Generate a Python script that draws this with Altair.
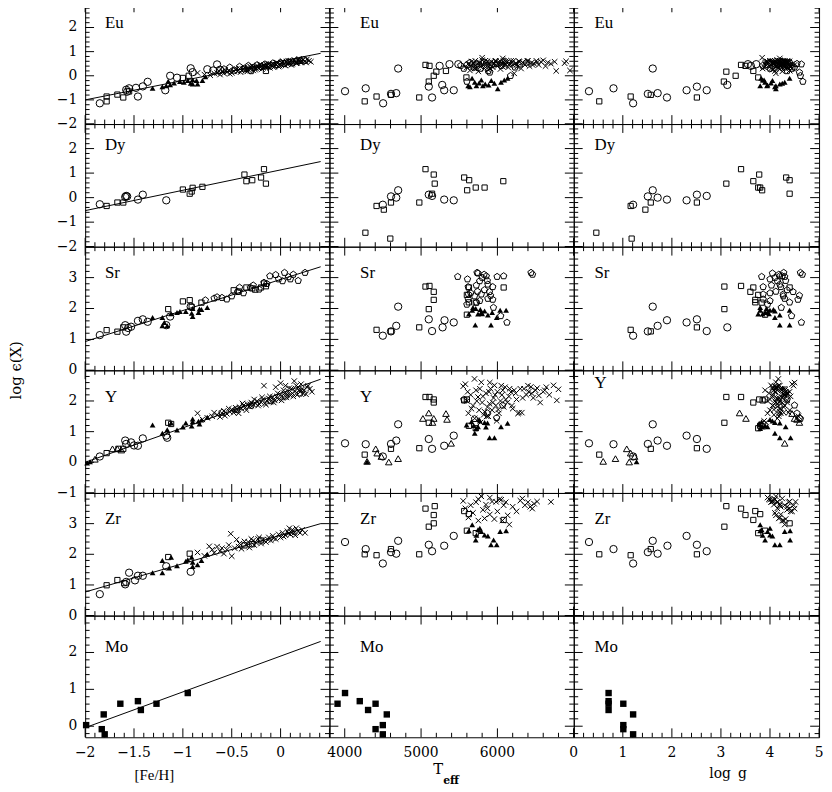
import math
import altair as alt
import pandas as pd

# ---------------- data ----------------
# fitted lines in the [Fe/H] panels: x = [Fe/H], one y pair per element
line_feh = [-2.0, 0.41]
line_eu = [-1.00, 0.93]
line_dy = [-0.53, 1.47]
line_sr = [0.93, 3.35]
line_y = [0.00, 2.71]
line_zr = [0.77, 3.00]
line_mo = [-0.04, 2.30]

# ---- Eu ----  left: ([Fe/H], value) ; mid/right: (Teff, log g, value)
eu_circ_l = [(-1.85, -1.14), (-1.58, -0.58), (-1.57, -0.66), (-1.55, -0.52), (-1.48, -0.50), (-1.46, -0.86),
             (-1.41, -0.44), (-1.36, -0.25), (-1.18, -0.60), (-1.13, 0.00), (-1.06, -0.08), (-0.92, 0.31),
             (-0.90, 0.15), (-0.75, 0.27), (-0.69, 0.22), (-0.65, 0.47), (-0.62, 0.25), (0.24, 0.64)]
eu_sq_l = [(-1.78, -1.06), (-1.78, -0.86), (-1.67, -0.78), (-1.61, -0.90), (-1.55, -0.65), (-1.00, -0.09),
           (-0.94, 0.00), (-0.15, 0.20)]
eu_ftri_l = [(-1.31, -0.52), (-1.21, -0.45), (-1.17, -0.41), (-1.15, -0.23), (-1.13, -0.37), (-1.09, -0.30),
             (-1.03, -0.24), (-0.99, -0.27), (-0.95, -0.20), (-0.92, -0.31), (-0.90, -0.16), (-0.90, -0.34),
             (-0.86, -0.20), (-0.85, -0.34), (-0.80, -0.20), (-0.77, -0.04)]
eu_pent_l = [(-0.58, 0.28), (-0.52, 0.35), (-0.47, 0.22), (-0.42, 0.38), (-0.37, 0.30), (-0.33, 0.42),
             (-0.28, 0.33), (-0.24, 0.45), (-0.20, 0.38), (-0.16, 0.48), (-0.12, 0.40), (-0.08, 0.52),
             (-0.04, 0.45), (0.00, 0.55), (0.04, 0.50), (0.08, 0.58), (0.12, 0.52), (0.16, 0.60),
             (0.20, 0.62), (-0.30, 0.20)]
eu_cross_l = [(-0.85, 0.12), (-0.78, 0.05), (-0.72, 0.02), (-0.68, 0.10), (-0.65, 0.12), (-0.62, 0.05),
              (-0.60, 0.18), (-0.58, 0.10), (-0.55, 0.15), (-0.53, 0.22), (-0.50, 0.12), (-0.48, 0.20),
              (-0.46, 0.25), (-0.44, 0.18), (-0.42, 0.30), (-0.40, 0.22), (-0.38, 0.28), (-0.36, 0.20),
              (-0.35, 0.32), (-0.33, 0.25), (-0.31, 0.38), (-0.30, 0.30), (-0.28, 0.22), (-0.27, 0.35),
              (-0.25, 0.30), (-0.24, 0.42), (-0.22, 0.32), (-0.20, 0.38), (-0.19, 0.28), (-0.17, 0.45),
              (-0.16, 0.35), (-0.14, 0.40), (-0.12, 0.48), (-0.11, 0.33), (-0.09, 0.42), (-0.08, 0.50),
              (-0.06, 0.40), (-0.05, 0.46), (-0.03, 0.52), (-0.02, 0.38), (0.00, 0.47), (0.01, 0.55),
              (0.03, 0.45), (0.04, 0.52), (0.06, 0.58), (0.07, 0.48), (0.09, 0.55), (0.10, 0.62),
              (0.12, 0.50), (0.13, 0.57), (0.15, 0.60), (0.17, 0.53), (0.18, 0.65), (0.20, 0.58),
              (0.22, 0.62), (0.25, 0.60), (0.27, 0.68), (-0.45, 0.28), (-0.41, 0.15), (-0.37, 0.35),
              (-0.34, 0.18), (-0.29, 0.40), (-0.26, 0.25), (-0.23, 0.35), (-0.21, 0.45), (-0.18, 0.33),
              (-0.15, 0.50), (-0.13, 0.36), (-0.10, 0.45), (-0.07, 0.35), (-0.04, 0.55), (-0.01, 0.42),
              (0.02, 0.60), (0.05, 0.42), (0.08, 0.62), (0.11, 0.45), (0.14, 0.66), (0.16, 0.52),
              (0.19, 0.70), (0.21, 0.55), (0.23, 0.68), (0.26, 0.55), (0.29, 0.62), (0.31, 0.58),
              (-0.57, 0.25), (-0.52, 0.08), (-0.63, 0.20)]
eu_circ_m = [(4004, 0.31, -0.64), (4275, 0.81, -0.52), (4503, 1.21, -1.14), (4606, 1.51, -0.75),
             (4675, 1.71, -0.72), (4700, 1.61, 0.30), (5101, 2.51, -0.45), (5144, 1.90, -0.90),
             (5303, 2.71, -0.60), (5428, 2.30, -0.60), (5277, 3.13, -0.38), (5243, 3.61, 0.41),
             (5372, 3.55, 0.48), (5488, 3.72, 0.48)]
eu_sq_m = [(4262, 0.52, -1.06), (4417, 1.16, -0.86), (4606, 1.57, -0.79), (4976, 2.51, -0.90),
           (5058, 3.41, 0.45), (5110, 3.50, 0.41), (5166, 3.30, 0.00), (5200, 3.11, 0.17),
           (5101, 3.06, -0.24), (5594, 3.76, -0.07), (5326, 3.66, 0.20)]
eu_ftri_m = [(5617, 3.80, -0.41), (5640, 4.10, -0.45), (5668, 3.82, -0.10), (5703, 3.90, -0.27),
             (5725, 3.94, -0.41), (5760, 4.02, -0.30), (5789, 3.85, -0.18), (5810, 4.12, -0.41),
             (5840, 4.20, -0.34), (5885, 3.95, -0.38), (5920, 4.05, -0.20), (5960, 4.25, -0.31),
             (6004, 4.12, -0.54), (6047, 4.30, -0.27), (6090, 3.88, -0.18), (6133, 4.40, -0.10)]
eu_pent_m = [(5520, 3.85, 0.42), (5560, 4.00, 0.30), (5600, 3.95, 0.45), (5640, 4.20, 0.55),
             (5690, 4.30, 0.35), (5730, 4.10, 0.48), (5780, 4.45, 0.30), (5830, 4.00, 0.55),
             (5880, 4.35, 0.20), (5930, 4.15, 0.45), (5990, 4.55, 0.50), (6050, 4.35, 0.42),
             (6100, 4.25, 0.60), (6172, 4.62, 0.00), (6230, 4.50, 0.35), (6300, 4.64, 0.48),
             (6380, 4.40, 0.55), (5600, 4.67, -0.24), (5900, 4.60, 0.14)]
eu_cross_m = [(5600, 4.30, 0.35), (5620, 4.05, 0.50), (5640, 4.40, 0.22), (5660, 3.95, 0.58),
              (5680, 4.20, 0.42), (5700, 4.45, 0.30), (5710, 4.10, 0.62), (5730, 3.90, 0.48),
              (5750, 4.25, 0.18), (5760, 4.35, 0.55), (5780, 4.00, 0.38), (5800, 4.15, 0.65),
              (5810, 4.50, 0.45), (5830, 3.85, 0.30), (5850, 4.20, 0.52), (5870, 4.30, 0.60),
              (5880, 4.05, 0.25), (5900, 4.40, 0.45), (5920, 3.95, 0.58), (5940, 4.15, 0.35),
              (5960, 4.25, 0.50), (5980, 4.10, 0.62), (6000, 4.35, 0.40), (6020, 3.90, 0.55),
              (6040, 4.20, 0.28), (6060, 4.45, 0.48), (6080, 4.00, 0.60), (6100, 4.30, 0.42),
              (6120, 4.15, 0.55), (6140, 3.88, 0.35), (6160, 4.25, 0.50), (6180, 4.05, 0.62),
              (6200, 4.40, 0.45), (6220, 4.12, 0.10), (6240, 3.95, 0.52), (6260, 4.30, 0.38),
              (6290, 4.18, 0.58), (6310, 4.02, 0.30), (6330, 4.35, 0.55), (6360, 4.22, 0.45),
              (6390, 3.92, 0.60), (6420, 4.28, 0.40), (6450, 4.10, 0.55), (6480, 4.38, 0.50),
              (6510, 4.00, 0.62), (6540, 4.20, 0.45), (6570, 4.32, 0.58), (6600, 4.15, 0.64),
              (6630, 4.42, 0.40), (6660, 4.05, 0.55), (6700, 4.25, 0.50), (6750, 4.30, 0.58),
              (6770, 4.10, 0.20), (6880, 4.35, 0.52), (6900, 4.20, 0.60), (6950, 4.40, 0.22),
              (5800, 3.84, 0.75), (6070, 4.20, 0.72), (5650, 4.22, 0.40), (5690, 4.28, 0.52),
              (5720, 4.18, 0.30), (5770, 4.12, 0.55), (5790, 4.38, 0.42), (5840, 4.26, 0.62),
              (5860, 4.14, 0.40), (5890, 4.22, 0.55), (5910, 4.32, 0.30), (5950, 4.08, 0.52),
              (5970, 4.36, 0.60), (6010, 4.18, 0.48), (6030, 4.28, 0.62), (6070, 4.12, 0.38),
              (6090, 4.25, 0.52), (6110, 4.40, 0.60), (6150, 4.10, 0.45), (6190, 4.30, 0.55),
              (6210, 4.20, 0.62), (6250, 4.15, 0.45), (6280, 4.35, 0.60), (6340, 4.08, 0.52),
              (6400, 4.20, 0.62), (6460, 4.30, 0.45), (6520, 4.12, 0.55)]

# ---- Dy ----
dy_circ_l = [(-1.85, -0.27), (-1.59, 0.03), (-1.58, 0.07), (-1.57, 0.05), (-1.46, -0.08), (-1.41, 0.12),
             (-1.17, -0.11)]
dy_sq_l = [(-1.78, -0.34), (-1.67, -0.20), (-1.61, -0.20), (-1.00, 0.33), (-0.93, 0.16), (-0.91, 0.25),
           (-0.90, 0.40), (-0.80, 0.44), (-0.37, 0.94), (-0.35, 0.67), (-0.29, 0.71), (-0.20, 0.82),
           (-0.17, 1.16), (-0.15, 0.57)]
dy_circ_m = [(4499, 1.21, -0.29), (4606, 1.51, 0.05), (4675, 1.71, 0.00), (4700, 1.61, 0.30),
             (5101, 2.51, 0.12), (5144, 2.71, 0.07), (5303, 1.90, -0.08), (5428, 2.30, -0.11)]
dy_sq_m = [(4271, 0.46, -1.43), (4597, 1.18, -1.67), (4417, 1.16, -0.34), (4512, 1.46, -0.49),
           (4606, 1.57, -0.20), (4977, 2.51, -0.20), (5179, 3.11, 0.57), (5058, 3.41, 1.16),
           (5166, 3.78, 0.94), (5565, 4.33, 0.82), (5630, 4.40, 0.71), (5604, 3.84, 0.30),
           (5716, 3.76, 0.41), (5832, 3.80, 0.41), (6077, 3.66, 0.67), (5144, 4.40, 0.16)]

# ---- Sr ----
sr_circ_l = [(-1.85, 1.14), (-1.59, 1.46), (-1.58, 1.25), (-1.56, 1.37), (-1.53, 1.41), (-1.46, 1.60),
             (-1.41, 1.65), (-1.36, 1.57), (-1.17, 1.46), (-1.13, 1.74), (-0.92, 2.06)]
sr_sq_l = [(-1.78, 1.30), (-1.67, 1.25), (-1.61, 1.39), (-1.15, 1.98), (-1.00, 2.23), (-0.93, 2.27),
           (-0.91, 2.05), (-0.81, 2.19), (-0.48, 2.59), (-0.43, 2.55), (-0.35, 2.68), (-0.29, 2.65),
           (-0.26, 2.61), (-0.20, 2.68), (-0.17, 2.81), (-0.15, 2.72)]
sr_ftri_l = [(-1.31, 1.71), (-1.21, 1.44), (-1.21, 1.71), (-1.19, 1.55), (-1.16, 1.44), (-1.12, 1.83),
             (-1.06, 1.87), (-1.03, 1.90), (-0.97, 1.90), (-0.90, 2.00), (-0.91, 1.85), (-0.90, 1.74),
             (-0.84, 1.87), (-0.83, 1.98), (-0.81, 1.97), (-0.75, 2.03)]
sr_pent_l = [(-0.77, 2.27), (-0.68, 2.33), (-0.65, 2.37), (-0.60, 2.35), (-0.55, 2.30), (-0.50, 2.40),
             (-0.44, 2.54), (-0.42, 2.68), (-0.38, 2.50), (-0.31, 2.68), (-0.28, 2.75), (-0.22, 2.62),
             (-0.17, 2.84), (-0.14, 2.80), (-0.11, 3.05), (-0.05, 3.09), (-0.02, 2.95), (0.02, 2.89),
             (0.04, 3.16), (0.08, 3.02), (0.10, 2.95), (0.13, 3.10), (0.18, 2.90), (0.25, 3.16)]
sr_circ_m = [(4499, 1.21, 1.12), (4606, 1.51, 1.26), (4675, 1.71, 1.44), (4700, 1.61, 2.06),
             (5101, 2.51, 1.65), (5144, 2.71, 1.27), (5282, 3.13, 1.39), (5307, 1.90, 1.62),
             (5428, 2.30, 1.55)]
sr_sq_m = [(4417, 1.16, 1.31), (4606, 1.57, 1.26), (4976, 2.51, 1.39), (5058, 3.07, 2.71),
           (5110, 3.41, 2.73), (5166, 3.60, 2.54), (5166, 3.70, 2.28), (5101, 3.07, 1.98),
           (5627, 3.66, 2.68), (5600, 3.76, 2.44), (5716, 3.83, 2.19), (5600, 3.90, 1.80),
           (6082, 4.40, 2.68), (5626, 3.70, 2.20)]
sr_ftri_m = [(5626, 3.76, 1.82), (5680, 3.80, 2.03), (5716, 3.93, 2.00), (5746, 3.85, 1.82),
             (5776, 4.07, 1.97), (5789, 3.90, 1.87), (5832, 4.10, 1.92), (5875, 4.20, 1.79),
             (5931, 3.95, 1.87), (5991, 4.10, 1.71), (6036, 4.00, 1.94), (6114, 4.40, 1.94),
             (5710, 4.20, 1.47), (5916, 4.40, 1.47), (5670, 3.80, 1.94), (5800, 3.98, 1.83)]
sr_pent_m = [(5480, 3.83, 3.03), (5608, 4.00, 2.95), (5746, 4.05, 3.14), (5854, 4.25, 3.05),
             (5996, 4.30, 3.03), (6082, 4.20, 3.05), (6440, 4.62, 3.16), (6460, 4.66, 3.10),
             (5617, 3.86, 2.70), (5724, 4.03, 2.75), (5768, 4.15, 2.89), (5800, 4.10, 3.00),
             (5875, 4.20, 2.78), (5896, 4.47, 2.54), (5939, 4.22, 2.70), (5620, 3.86, 2.46),
             (5650, 4.00, 2.50), (5700, 4.27, 2.40), (5740, 4.12, 2.55), (5789, 4.27, 2.46),
             (5830, 4.35, 2.60), (5875, 4.30, 2.32), (5939, 4.57, 2.29), (5768, 4.00, 2.25),
             (5617, 3.86, 2.30), (6043, 4.44, 1.76), (5948, 4.23, 2.03), (5600, 3.95, 2.13),
             (5728, 4.40, 2.20), (5733, 4.28, 3.16), (5826, 4.18, 3.10), (5868, 4.32, 2.90),
             (5910, 4.60, 2.42), (6125, 4.64, 1.55)]

# ---- Y ----
y_circ_l = [(-1.85, 0.19), (-1.59, 0.71), (-1.58, 0.60), (-1.53, 0.65), (-1.50, 0.55), (-1.46, 0.54),
            (-1.41, 0.78), (-1.17, 0.87), (-1.16, 0.80)]
y_sq_l = [(-1.78, 0.30), (-1.66, 0.44), (-1.61, 0.44), (-1.15, 1.29), (-1.12, 1.25)]
y_otri_l = [(-1.90, 0.10), (-1.72, 0.44), (-1.67, 0.44), (-1.63, 0.40)]
y_ftri_l = [(-1.98, -0.02), (-1.95, 0.02), (-1.31, 1.22), (-1.21, 0.95), (-1.16, 1.06), (-1.12, 1.28),
            (-1.06, 1.05), (-0.97, 1.28), (-0.90, 1.32), (-0.91, 1.18), (-0.90, 1.41), (-0.84, 1.34),
            (-0.83, 1.25), (-0.81, 1.38), (-0.75, 1.47), (-1.00, 1.15)]
y_pent_l = [(-0.60, 1.62), (-0.45, 1.72), (-0.30, 1.85), (-0.10, 2.00), (0.05, 2.15), (0.20, 2.25)]
y_cross_l = [(-0.85, 1.60), (-0.80, 1.40), (-0.75, 1.45), (-0.70, 1.50), (-0.68, 1.62), (-0.65, 1.55),
             (-0.62, 1.48), (-0.60, 1.60), (-0.58, 1.68), (-0.55, 1.58), (-0.52, 1.65), (-0.50, 1.72),
             (-0.48, 1.62), (-0.46, 1.78), (-0.44, 1.70), (-0.42, 1.80), (-0.40, 1.75), (-0.38, 1.85),
             (-0.36, 1.78), (-0.34, 1.90), (-0.32, 1.82), (-0.30, 1.95), (-0.28, 1.88), (-0.26, 1.92),
             (-0.24, 2.00), (-0.22, 1.90), (-0.20, 1.96), (-0.18, 2.05), (-0.16, 1.92), (-0.14, 2.00),
             (-0.12, 2.08), (-0.10, 1.98), (-0.08, 2.12), (-0.06, 2.02), (-0.04, 2.15), (-0.02, 2.05),
             (0.00, 2.20), (0.02, 2.10), (0.04, 2.25), (0.06, 2.12), (0.08, 2.30), (0.10, 2.18),
             (0.11, 2.40), (0.12, 2.25), (0.14, 2.65), (0.15, 2.32), (0.17, 2.20), (0.18, 2.45),
             (0.20, 2.30), (0.22, 2.38), (0.24, 2.35), (0.26, 2.22), (0.28, 2.50), (0.30, 2.40),
             (-0.05, 2.45), (0.05, 2.50), (-0.17, 2.50), (0.00, 2.58), (-0.57, 1.52), (-0.53, 1.75),
             (-0.47, 1.68), (-0.43, 1.60), (-0.39, 1.92), (-0.35, 1.70), (-0.31, 1.88), (-0.27, 2.05),
             (-0.23, 1.85), (-0.19, 2.12), (-0.15, 1.88), (-0.11, 2.15), (-0.07, 1.95), (-0.03, 2.25),
             (0.01, 2.02), (0.03, 2.35), (0.07, 2.20), (0.09, 2.42), (0.13, 2.15), (0.16, 2.50),
             (0.19, 2.35), (0.21, 2.55), (0.23, 2.25), (0.27, 2.45), (0.32, 2.30)]
y_circ_m = [(4004, 0.31, 0.62), (4275, 0.81, 0.59), (4499, 1.21, 0.19), (4606, 1.51, 0.60),
            (4675, 1.71, 0.71), (4700, 1.61, 1.24), (5101, 2.51, 0.76), (5144, 2.71, 0.44),
            (5303, 1.90, 0.54), (5428, 2.30, 0.87)]
y_sq_m = [(4262, 0.52, 0.25), (4606, 1.57, 0.44), (4977, 2.51, 0.46), (5058, 3.11, 2.13),
          (5110, 3.41, 2.13), (5166, 3.78, 2.05), (5166, 3.66, 1.95), (5101, 3.07, 1.29),
          (5565, 3.85, 2.02), (5600, 3.90, 2.05), (5626, 3.80, 1.19), (5716, 3.76, 1.11)]
y_otri_m = [(4293, 0.60, 0.03), (4406, 1.08, 0.44), (4425, 1.16, 0.30), (4480, 1.24, 0.19),
            (4577, 1.13, 0.01), (4700, 0.85, 0.12), (5101, 3.38, 1.61), (5024, 3.51, 1.43),
            (5166, 4.50, 1.43), (5150, 4.60, 1.30), (5326, 4.45, 1.59), (5340, 4.55, 1.40),
            (5394, 4.30, 0.62)]
y_ftri_m = [(4293, 1.28, 0.02), (5596, 3.80, 1.22), (5660, 3.83, 1.32), (5690, 3.90, 1.20),
            (5703, 4.10, 0.95), (5746, 3.95, 1.16), (5770, 4.05, 1.35), (5832, 4.10, 1.30),
            (5850, 3.85, 1.15), (5870, 4.20, 1.28), (5897, 4.20, 0.80), (5961, 4.42, 0.80),
            (6047, 4.32, 1.16), (6133, 3.78, 1.27), (5720, 3.80, 1.10), (5760, 4.00, 1.40)]
y_pent_m = [(5560, 4.35, 2.05), (5870, 4.55, 1.60), (6069, 4.50, 1.86), (5990, 4.60, 1.45),
            (5700, 4.62, 1.42)]
y_cross_m = [(5552, 4.10, 2.48), (5600, 4.20, 2.00), (5620, 3.95, 1.60), (5650, 4.30, 2.20),
             (5680, 4.05, 1.85), (5703, 4.15, 1.43), (5720, 3.90, 2.35), (5746, 4.25, 2.13),
             (5760, 4.00, 1.70), (5789, 4.12, 2.61), (5800, 4.35, 1.95), (5820, 4.08, 1.55),
             (5832, 4.20, 1.65), (5850, 3.98, 2.25), (5870, 4.28, 1.80), (5897, 4.15, 1.91),
             (5910, 4.05, 2.40), (5930, 4.40, 1.70), (5950, 4.18, 2.10), (5961, 4.02, 2.51),
             (5980, 4.30, 1.85), (6000, 4.10, 2.30), (6020, 4.22, 1.60), (6040, 3.95, 2.00),
             (6060, 4.35, 2.20), (6082, 4.15, 1.81), (6100, 4.05, 2.45), (6130, 4.25, 1.95),
             (6150, 4.42, 2.15), (6177, 4.10, 2.29), (6200, 4.20, 1.75), (6220, 4.30, 2.35),
             (6250, 4.00, 2.05), (6270, 4.18, 1.59), (6284, 4.28, 1.62), (6300, 4.12, 2.40),
             (6320, 4.38, 1.62), (6348, 4.22, 2.40), (6380, 4.05, 2.20), (6410, 4.32, 2.30),
             (6439, 4.15, 2.46), (6470, 4.25, 2.10), (6500, 4.08, 2.35), (6542, 4.30, 2.18),
             (6560, 4.20, 1.95), (6600, 4.40, 2.30), (6640, 4.12, 2.45), (6680, 4.28, 2.20),
             (6735, 4.18, 2.51), (6778, 4.35, 2.02), (6800, 4.22, 2.38), (5580, 4.45, 2.55),
             (5900, 4.50, 2.60), (6050, 4.48, 2.50), (5990, 3.88, 1.35), (5780, 3.92, 1.30),
             (5880, 4.58, 1.50), (5700, 4.17, 2.72), (5610, 4.12, 2.30), (5660, 4.22, 1.75),
             (5730, 4.10, 2.00), (5770, 4.30, 2.40), (5810, 4.05, 2.15), (5860, 4.18, 1.50),
             (5890, 4.32, 2.30), (5940, 4.12, 1.95), (5970, 4.25, 2.20), (6010, 4.08, 1.72),
             (6070, 4.30, 2.35), (6110, 4.16, 2.05), (6160, 4.26, 2.40), (6190, 4.06, 1.85),
             (6240, 4.34, 2.25), (6330, 4.14, 2.10), (6400, 4.20, 2.50), (6450, 4.36, 2.25),
             (6520, 4.14, 2.42), (6620, 4.24, 2.35)]

# ---- Zr ----
zr_circ_l = [(-1.85, 0.70), (-1.59, 1.02), (-1.58, 1.10), (-1.55, 1.40), (-1.49, 1.15), (-1.46, 1.30),
             (-1.41, 1.30), (-1.17, 1.61), (-0.92, 1.43)]
zr_sq_l = [(-1.78, 0.99), (-1.67, 1.16), (-1.60, 1.06), (-1.15, 1.91), (-0.93, 2.02), (-0.37, 2.29),
           (-0.29, 2.33), (-0.20, 2.45)]
zr_ftri_l = [(-1.31, 1.40), (-1.21, 1.80), (-1.21, 1.40), (-1.14, 1.55), (-1.12, 1.90), (-1.06, 1.63),
             (-0.97, 1.77), (-0.95, 1.82), (-0.91, 1.90), (-0.90, 1.74), (-0.90, 1.60), (-0.85, 1.66),
             (-0.81, 1.80), (-0.75, 2.00)]
zr_cross_l = [(-0.85, 2.06), (-0.78, 1.95), (-0.73, 2.26), (-0.68, 2.05), (-0.62, 2.10), (-0.58, 2.02),
              (-0.55, 2.15), (-0.51, 2.67), (-0.50, 1.94), (-0.47, 2.20), (-0.43, 2.25), (-0.40, 2.18),
              (-0.37, 2.42), (-0.35, 2.30), (-0.32, 2.22), (-0.28, 2.45), (-0.25, 2.38), (-0.23, 2.50),
              (-0.20, 2.35), (-0.18, 2.48), (-0.15, 2.40), (-0.12, 2.55), (-0.10, 2.45), (-0.08, 2.60),
              (-0.05, 2.50), (-0.02, 2.65), (0.00, 2.55), (0.02, 2.70), (0.05, 2.62), (0.07, 2.75),
              (0.10, 2.65), (0.12, 2.80), (0.14, 2.70), (0.16, 2.85), (0.18, 2.75), (0.22, 2.80),
              (0.25, 2.70), (-0.65, 2.25), (-0.45, 2.48), (-0.30, 2.50), (-0.70, 2.15), (-0.60, 2.20),
              (-0.53, 2.30), (-0.42, 2.35), (-0.33, 2.40), (-0.27, 2.30), (-0.22, 2.55), (-0.13, 2.48),
              (-0.07, 2.52), (0.03, 2.58), (0.08, 2.68), (0.11, 2.72), (0.15, 2.62), (0.20, 2.70),
              (0.09, 2.85)]
zr_circ_m = [(4004, 0.31, 2.40), (4275, 0.81, 2.17), (4499, 1.21, 1.70), (4606, 1.51, 2.07),
             (4675, 1.71, 2.02), (4700, 1.61, 2.44), (5101, 2.51, 2.31), (5144, 2.71, 2.10),
             (5303, 1.91, 2.28), (5428, 2.30, 2.60)]
zr_sq_m = [(4262, 0.52, 2.00), (4417, 1.16, 1.97), (4606, 1.57, 2.17), (4976, 2.51, 2.00),
           (5058, 3.41, 3.49), (5179, 3.11, 3.57), (5166, 3.50, 3.28), (5166, 4.40, 3.01),
           (5101, 3.07, 2.90), (5565, 3.70, 3.41), (5626, 3.80, 3.31), (5600, 3.90, 2.77),
           (5716, 3.76, 2.69), (6082, 3.66, 3.12)]
zr_ftri_m = [(5626, 3.80, 2.77), (5670, 3.80, 2.96), (5716, 3.90, 2.47), (5746, 3.83, 2.80),
             (5770, 4.00, 2.85), (5789, 3.95, 2.74), (5832, 4.00, 2.63), (5875, 4.05, 2.60),
             (5916, 4.10, 2.31), (5991, 4.20, 2.31), (6036, 4.30, 2.74), (6114, 4.41, 2.77),
             (5725, 3.85, 2.62), (5950, 4.41, 2.47)]
zr_cross_m = [(5552, 4.05, 3.74), (5580, 4.15, 3.50), (5620, 4.20, 3.20), (5650, 4.30, 3.60),
              (5680, 4.10, 3.35), (5720, 4.02, 3.70), (5750, 4.25, 3.10), (5789, 4.12, 3.89),
              (5810, 4.35, 3.45), (5832, 4.18, 3.17), (5850, 4.08, 3.62), (5870, 4.40, 3.50),
              (5900, 4.22, 3.30), (5930, 4.05, 3.72), (5960, 4.32, 3.15), (5983, 4.15, 3.71),
              (6000, 4.45, 3.40), (6030, 4.10, 3.80), (6065, 4.28, 3.10), (6082, 4.20, 3.60),
              (6110, 4.38, 3.70), (6134, 4.12, 3.27), (6155, 4.30, 2.97), (6200, 4.22, 3.55),
              (6250, 4.42, 3.40), (6300, 4.08, 3.75), (6327, 4.25, 3.82), (6360, 4.48, 3.60),
              (6400, 4.15, 3.70), (6430, 4.35, 3.55), (6456, 4.50, 3.49), (6480, 4.20, 3.65),
              (6520, 4.40, 3.72), (6701, 4.52, 3.71), (5900, 3.95, 3.85), (6050, 4.00, 3.78),
              (5750, 3.98, 3.80)]

# ---- Mo ---- ([Fe/H], Teff, log g, value)
mo_fsq = [(-1.99, 4499, 1.01, 0.03), (-1.83, 4404, 1.01, -0.08), (-1.81, 4551, 1.21, 0.32),
          (-1.80, 4499, 1.21, -0.22), (-1.64, 3906, 0.71, 0.61), (-1.46, 4197, 0.71, 0.68),
          (-1.43, 4306, 0.71, 0.44), (-1.27, 4404, 1.01, 0.61), (-0.95, 4004, 0.71, 0.90)]

# ---------------- assembly ----------------
LEFT = {
    "Eu": {"circ": eu_circ_l, "pent": eu_pent_l, "sq": eu_sq_l, "cross": eu_cross_l, "ftri": eu_ftri_l},
    "Dy": {"circ": dy_circ_l, "sq": dy_sq_l},
    "Sr": {"circ": sr_circ_l, "pent": sr_pent_l, "sq": sr_sq_l, "ftri": sr_ftri_l},
    "Y": {"circ": y_circ_l, "pent": y_pent_l, "sq": y_sq_l, "otri": y_otri_l, "cross": y_cross_l,
          "ftri": y_ftri_l},
    "Zr": {"circ": zr_circ_l, "sq": zr_sq_l, "cross": zr_cross_l, "ftri": zr_ftri_l},
    "Mo": {"fsq": [(a, d) for a, b, c, d in mo_fsq]},
}
MID = {
    "Eu": {"circ": eu_circ_m, "pent": eu_pent_m, "sq": eu_sq_m, "cross": eu_cross_m, "ftri": eu_ftri_m},
    "Dy": {"circ": dy_circ_m, "sq": dy_sq_m},
    "Sr": {"circ": sr_circ_m, "pent": sr_pent_m, "sq": sr_sq_m, "ftri": sr_ftri_m},
    "Y": {"circ": y_circ_m, "pent": y_pent_m, "sq": y_sq_m, "otri": y_otri_m, "cross": y_cross_m,
          "ftri": y_ftri_m},
    "Zr": {"circ": zr_circ_m, "sq": zr_sq_m, "cross": zr_cross_m, "ftri": zr_ftri_m},
    "Mo": {"fsq": [(b, c, d) for a, b, c, d in mo_fsq]},
}
LINES = {"Eu": line_eu, "Dy": line_dy, "Sr": line_sr, "Y": line_y, "Zr": line_zr, "Mo": line_mo}

PENT = "M0,-1L0.951,-0.309L0.588,0.809L-0.588,0.809L-0.951,-0.309Z"
XMARK = "M-1,-1L1,1M-1,1L1,-1"
STYLE = {
    "circ": ("circle", 55, False),
    "pent": (PENT, 46, False),
    "sq": ("square", 28, False),
    "otri": ("triangle-up", 44, False),
    "cross": (XMARK, 30, False),
    "ftri": ("triangle-up", 34, True),
    "fsq": ("square", 42, True),
}
ORDER = ["circ", "pent", "sq", "otri", "cross", "ftri", "fsq"]

# inward tick marks drawn as one-sided line symbols (length = sqrt(size) px)
TICK_SHAPES = {"l": "M0,0L2,0", "r": "M0,0L-2,0", "t": "M0,0L0,2", "b": "M0,0L0,-2"}
MAJ_SIZE = 81      # 9 px
MIN_SIZE = 20.25   # 4.5 px

FT = "DejaVu Serif"
FL = "Liberation Serif"
MINUS = "\u2212"


def frange(a, b, step):
    n = int(math.floor((b - a) / step + 1e-6))
    return [round(a + i * step, 4) for i in range(n + 1)]


def fmt(v):
    s = ("%g" % v)
    return s.replace("-", MINUS)


COLS = [
    dict(dom=[-2, 0.5], W=247, major=frange(-2, 0.5, 0.5), minor=frange(-2, 0.5, 0.1), labx=20,
         xlab=[-2, -1.5, -1, -0.5, 0]),
    dict(dom=[3800, 7000], W=247, major=[4000, 5000, 6000, 7000], minor=frange(3800, 7000, 200), labx=31,
         xlab=[4000, 5000, 6000]),
    dict(dom=[0, 5], W=248, major=frange(0, 5, 1), minor=frange(0, 5, 0.2), labx=21,
         xlab=[0, 1, 2, 3, 4, 5]),
]
ROWS = [
    dict(el="Eu", dom=[-2, 3], H=122, ylab=[-2, -1, 0, 1, 2], laby=25),
    dict(el="Dy", dom=[-2, 3], H=124, ylab=[-2, -1, 0, 1, 2], laby=26),
    dict(el="Sr", dom=[0, 4], H=125, ylab=[0, 1, 2, 3], laby=32),
    dict(el="Y", dom=[-1, 3], H=124, ylab=[-1, 0, 1, 2], laby=32),
    dict(el="Zr", dom=[0, 4], H=124, ylab=[0, 1, 2, 3], laby=31),
    dict(el="Mo", dom=[-0.3, 3], H=123, ylab=[0, 1, 2], laby=37),
]
LABY_OVERRIDE = {("Y", 2): 18}


def tick_marks(vals, scale, chan, side, pos, size):
    if chan == "y":
        df = pd.DataFrame({"y": list(vals)})
        enc = dict(y=alt.Y("y:Q", scale=scale, axis=None), x=alt.value(pos))
    else:
        df = pd.DataFrame({"x": list(vals)})
        enc = dict(x=alt.X("x:Q", scale=scale, axis=None), y=alt.value(pos))
    return alt.Chart(df).mark_point(shape=TICK_SHAPES[side], size=size, filled=False, color="black",
                                    strokeWidth=1, opacity=1).encode(**enc)


def text_layer(txt, x, y, **kw):
    return alt.Chart(pd.DataFrame({"t": [txt]})).mark_text(color="black", **kw).encode(
        x=alt.value(x), y=alt.value(y), text="t:N")


def make_panel(ri, ci):
    row, col = ROWS[ri], COLS[ci]
    W, H = col["W"], row["H"]
    el = row["el"]
    xs = alt.Scale(domain=col["dom"], nice=False, zero=False)
    ys = alt.Scale(domain=row["dom"], nice=False, zero=False)
    lo, hi = row["dom"]
    ymajor = [v for v in range(math.ceil(lo), math.floor(hi) + 1)]
    yminor = [v for v in frange(math.ceil(lo / 0.2 - 1e-9) * 0.2, hi, 0.2)
              if abs(v - round(v)) > 1e-6 and v <= hi]
    xmajor = col["major"]
    xminor = [v for v in col["minor"] if v not in xmajor]
    layers = [
        tick_marks(ymajor, ys, "y", "l", 0, MAJ_SIZE),
        tick_marks(yminor, ys, "y", "l", 0, MIN_SIZE),
        tick_marks(ymajor, ys, "y", "r", W, MAJ_SIZE),
        tick_marks(yminor, ys, "y", "r", W, MIN_SIZE),
        tick_marks(xmajor, xs, "x", "t", 0, MAJ_SIZE),
        tick_marks(xminor, xs, "x", "t", 0, MIN_SIZE),
        tick_marks(xmajor, xs, "x", "b", H, MAJ_SIZE),
        tick_marks(xminor, xs, "x", "b", H, MIN_SIZE),
    ]
    if ci == 0:
        ln = pd.DataFrame({"x": line_feh, "y": LINES[el]})
        layers.append(alt.Chart(ln).mark_line(color="black", strokeWidth=1).encode(
            x=alt.X("x:Q", scale=xs, axis=None), y=alt.Y("y:Q", scale=ys, axis=None)))
    groups = LEFT[el] if ci == 0 else MID[el]
    for g in ORDER:
        if g not in groups:
            continue
        pts = groups[g]
        if ci == 0:
            df = pd.DataFrame({"x": [p[0] for p in pts], "y": [p[1] for p in pts]})
        elif ci == 1:
            df = pd.DataFrame({"x": [p[0] for p in pts], "y": [p[2] for p in pts]})
        else:
            df = pd.DataFrame({"x": [p[1] for p in pts], "y": [p[2] for p in pts]})
        shape, size, filled = STYLE[g]
        layers.append(alt.Chart(df).mark_point(shape=shape, size=size, filled=filled, color="black",
                                               strokeWidth=1, opacity=1).encode(
            x=alt.X("x:Q", scale=xs, axis=None), y=alt.Y("y:Q", scale=ys, axis=None)))
    laby = LABY_OVERRIDE.get((el, ci), row["laby"])
    layers.append(text_layer(el, col["labx"], laby, align="left", baseline="alphabetic", font=FL,
                             fontSize=17))
    if ci == 0:
        yl = pd.DataFrame({"v": row["ylab"], "t": [fmt(v) for v in row["ylab"]]})
        layers.append(alt.Chart(yl).mark_text(align="right", baseline="middle", font=FT, fontSize=14,
                                              color="black").encode(
            y=alt.Y("v:Q", scale=ys, axis=None), x=alt.value(-8), text="t:N"))
        if el == "Sr":
            layers.append(text_layer("log \u03f5(X)", -70, H, align="center", baseline="middle",
                                     font=FT, fontSize=15, angle=270))
    if ri == len(ROWS) - 1:
        xl = pd.DataFrame({"v": col["xlab"], "t": [fmt(v) for v in col["xlab"]]})
        layers.append(alt.Chart(xl).mark_text(align="center", baseline="alphabetic", font=FT, fontSize=14,
                                              color="black").encode(
            x=alt.X("v:Q", scale=xs, axis=None), y=alt.value(H + 20), text="t:N"))
        if ci == 0:
            layers.append(text_layer("[Fe/H]", 70, H + 43, align="center", baseline="alphabetic",
                                     font=FL, fontSize=15))
        elif ci == 1:
            layers.append(text_layer("T", 110, H + 37, align="center", baseline="alphabetic",
                                     font=FT, fontSize=15))
            layers.append(text_layer("eff", 115, H + 47, align="left", baseline="alphabetic",
                                     font=FT, fontSize=11, fontWeight="bold"))
        else:
            layers.append(text_layer("log\u2002g", 156, H + 41, align="center", baseline="alphabetic",
                                     font=FT, fontSize=14))
    return alt.layer(*layers).properties(width=W, height=H)


panels = [make_panel(ri, ci) for ri in range(len(ROWS)) for ci in range(3)]

# the reference's top row starts just above the page margin: pull the grid up
chart = alt.concat(*panels, columns=3, spacing=0, bounds="flush", align="each").properties(
    padding={"left": 0, "top": -12, "right": 0, "bottom": 0},
    background="white",
).configure_view(stroke="black", strokeWidth=1)

chart.save("out.html", embed_options={"renderer": "svg", "actions": False})
